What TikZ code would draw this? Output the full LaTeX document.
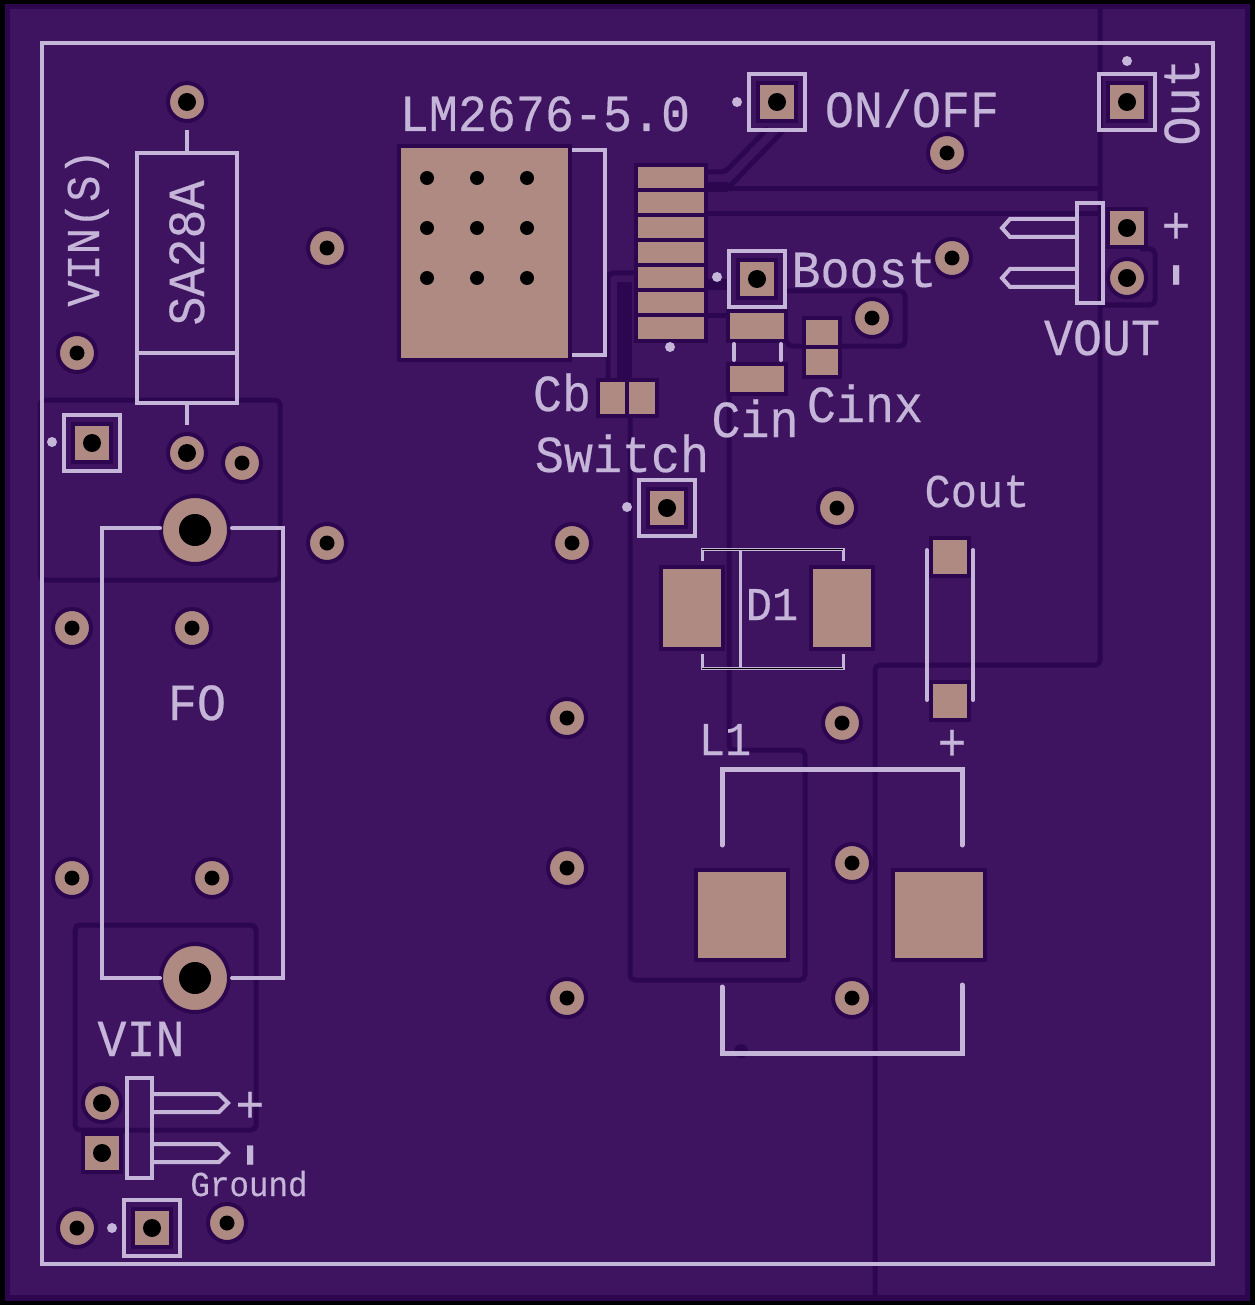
\documentclass[tikz,border=0pt]{standalone}
\usepackage{fontspec}
\newfontfamily\silkfont[FakeStretch=.93,FakeBold=.35]{Liberation Mono}
\definecolor{boardcol}{HTML}{3E1460}
\definecolor{tracecol}{HTML}{2D0650}
\definecolor{silkcol}{HTML}{C5B5D9}
\definecolor{padcol}{HTML}{AF8A82}
\tikzset{
 trace/.style={draw=tracecol,line width=5pt,rounded corners=5pt},
 silk/.style={draw=silkcol,line width=4pt},
 silkdot/.style={circle,fill=silkcol,inner sep=0pt,minimum size=10pt},
 keep/.style={draw=tracecol,line width=4pt,fill=padcol,inner sep=0pt,outer sep=0pt},
 smd/.style={keep,rectangle},
 sqpad/.style={keep,rectangle,minimum size=38pt},
 rdpad/.style={keep,circle,minimum size=38pt},
 hole/.style={circle,fill=black,inner sep=0pt},
 label/.style={text=silkcol,anchor=base,inner sep=0pt,font=\silkfont\fontsize{52}{52}\selectfont},
 small/.style={label,font=\silkfont\fontsize{35}{35}\selectfont},
 narrow/.style={label,font=\silkfont\fontsize{47}{47}\selectfont},
 dashlabel/.style={label,rotate=90,font=\silkfont\fontsize{75}{75}\selectfont}
}
\begin{document}
\begin{tikzpicture}[x=1pt,y=-1pt]
 \useasboundingbox (0,0) rectangle (1255,1305);
 \fill[black] (0,0) rectangle (1255,1305);
 \fill[tracecol] (5,4) rectangle (1250,1301);
 \fill[boardcol] (10,9) rectangle (1245,1295);
 \draw[trace] (1100,9) -- (1100,665) -- (875,665) -- (875,1295);
 \draw[trace] (705,189) -- (1100,189);
 \draw[trace] (705,214) -- (1100,214);
 \draw[trace] (1140,249) -- (1155,249) -- (1155,305) -- (1100,305);
 \draw[trace] (705,172) -- (725,172) -- (768,128);
 \draw[trace] (705,187) -- (729,187) -- (783,131);
 \draw[trace] (608,380) -- (608,273) -- (638,273);
 \fill[tracecol] (617,282) rectangle (632,385);
 \draw[trace,line width=10pt,rounded corners=0pt] (705,187) -- (728,187);
 \draw[trace,line width=11pt,rounded corners=0pt] (705,285) -- (730,285);
 \draw[trace] (705,315) -- (730,315);
 \draw[trace] (785,291) -- (905,291) -- (905,346) -- (787,346) -- (785,335);
 \draw[trace] (729,392) -- (729,750) -- (805,750) -- (805,980) -- (630,980) -- (630,414);
 \draw[trace] (40,400) rectangle (280,580);
 \draw[trace] (75,925) rectangle (256,1130);
 \fill[tracecol] (741,1051) circle (7);
 \node[smd,minimum width=171pt,minimum height=214pt] (heat) at (484.5,253) {};
 \foreach \x in {427,477,527}
  \foreach \y in {178,228,278}
   \node[hole,minimum size=14pt] (heat\x\y) at (\x,\y) {};
 \foreach \y [count=\i] in {178,203,228,253,278,303,328}
  \node[smd,minimum width=70pt,minimum height=26pt] (pin\i) at (671,\y) {};
 \foreach \x/\y/\w/\h/\n in {613/398/30/36/cba,642/398/30/36/cbb,757/326/58/30/cina,757/379/58/30/cinb,
   822/333/36/30/cinxa,822/362/36/30/cinxb,692/608/62/82/da,842/608/62/82/db,
   950/557/38/38/couta,950/701/38/38/coutb,742/915/92/90/la,939/915/92/90/lb}
  \node[smd,minimum width=\w pt,minimum height=\h pt] (\n) at (\x,\y) {};
 \foreach \x/\y [count=\i] in {777/102,757/279,1127/102,1127/228,102/1153,152/1228,92/443,667/508}{
  \node[sqpad] (sq\i) at (\x,\y) {};
  \node[hole,minimum size=18pt] at (sq\i) {};
 }
 \foreach \x/\y [count=\i] in {1127/278,102/1103,187/102,187/453}{
  \node[rdpad] (rd\i) at (\x,\y) {};
  \node[hole,minimum size=18pt] at (rd\i) {};
 }
 \foreach \x/\y [count=\i] in {947/153,952/258,872/318,327/248,327/543,77/353,242/463,572/543,837/508,
   72/628,192/628,567/718,842/723,72/878,212/878,567/868,852/863,567/998,852/998,77/1228,227/1223}{
  \node[rdpad] (via\i) at (\x,\y) {};
  \node[hole,minimum size=15pt] at (via\i) {};
 }
 \foreach \y [count=\i] in {530,978}{
  \node[rdpad,minimum size=68pt] (big\i) at (195,\y) {};
  \node[hole,minimum size=32pt] at (big\i) {};
 }
 \draw[silk,line join=miter] (42,43) rectangle (1213,1264);
 \foreach \x/\y in {777/102,757/279,1127/102,92/443,667/508,152/1228}
  \draw[silk] (\x-28,\y-28) rectangle (\x+28,\y+28);
 \foreach \x/\y [count=\i] in {737/102,717/277,1127/61,52/442,627/507,112/1228,670/347}
  \node[silkdot] (dot\i) at (\x,\y) {};
 \draw[silk] (572,150) -- (605,150) -- (605,355) -- (572,355);
 \draw[silk,line cap=round] (734,344) -- (734,360) (781,344) -- (781,360);
 \draw[silk,line cap=round] (927,550) -- (927,700) (973,550) -- (973,700);
 \draw[silk,line width=3pt] (702,561) -- (702,549) -- (843,549) -- (843,561) (702,654) -- (702,668) -- (843,668) -- (843,654) (740,549) -- (740,668);
 \draw[black,line width=.6pt] (702,549) -- (843,549) (702,668) -- (843,668);
 \draw[silk,line width=5pt,line cap=round] (722,845) -- (722,769) -- (962,769) -- (962,845) (722,987) -- (722,1053) -- (962,1053) -- (962,985);
 \draw[silk] (137,153) rectangle (237,403) (137,353) -- (237,353) (187,130) -- (187,153) (187,403) -- (187,425);
 \draw[silk,line cap=round] (160,528) -- (102,528) -- (102,978) -- (160,978) (232,528) -- (283,528) -- (283,978) -- (232,978);
 \draw[silk] (1077,203) rectangle (1103,303);
 \foreach \y in {228,278}
  \draw[silk] (1077,\y-9) -- (1010,\y-9) -- (1002,\y) -- (1010,\y+9) -- (1077,\y+9);
 \draw[silk] (127,1078) rectangle (152,1178);
 \foreach \y in {1103,1153}
  \draw[silk] (152,\y-9) -- (219,\y-9) -- (228,\y) -- (219,\y+9) -- (152,\y+9);
 \node[label] (lm) at (545,131) {LM2676-5.0};
 \node[label] (onoff) at (912,127) {ON/OFF};
 \node[label] (boost) at (864,287) {Boost};
 \node[label] (vout) at (1102,355) {VOUT};
 \node[label,rotate=90] (out) at (1199,102) {Out};
 \node[label] (cb) at (562,411) {Cb};
 \node[label] (cinx) at (865,422) {Cinx};
 \node[label] (cin) at (755,437) {Cin};
 \node[label] (switch) at (622,472) {Switch};
 \node[narrow] (cout) at (977,507) {Cout};
 \node[narrow] (d1) at (772,620) {D1};
 \node[narrow] (l1) at (725,755) {L1};
 \node[label] (fo) at (197,720) {FO};
 \node[label] (vin) at (141,1056) {VIN};
 \node[small] (ground) at (249,1196) {Ground};
 \node[narrow,rotate=90] (vins) at (99,228) {VIN(S)};
 \node[label,rotate=90] (sa) at (204,253) {SA28A};
 \node[label] (plusa) at (1176,243) {+};
 \node[dashlabel] (minusa) at (1196,275) {-};
 \node[label] (plusb) at (250,1122) {+};
 \node[dashlabel] (minusb) at (270,1155) {-};
 \node[label] (plusc) at (952,760) {+};
\end{tikzpicture}
\end{document}
